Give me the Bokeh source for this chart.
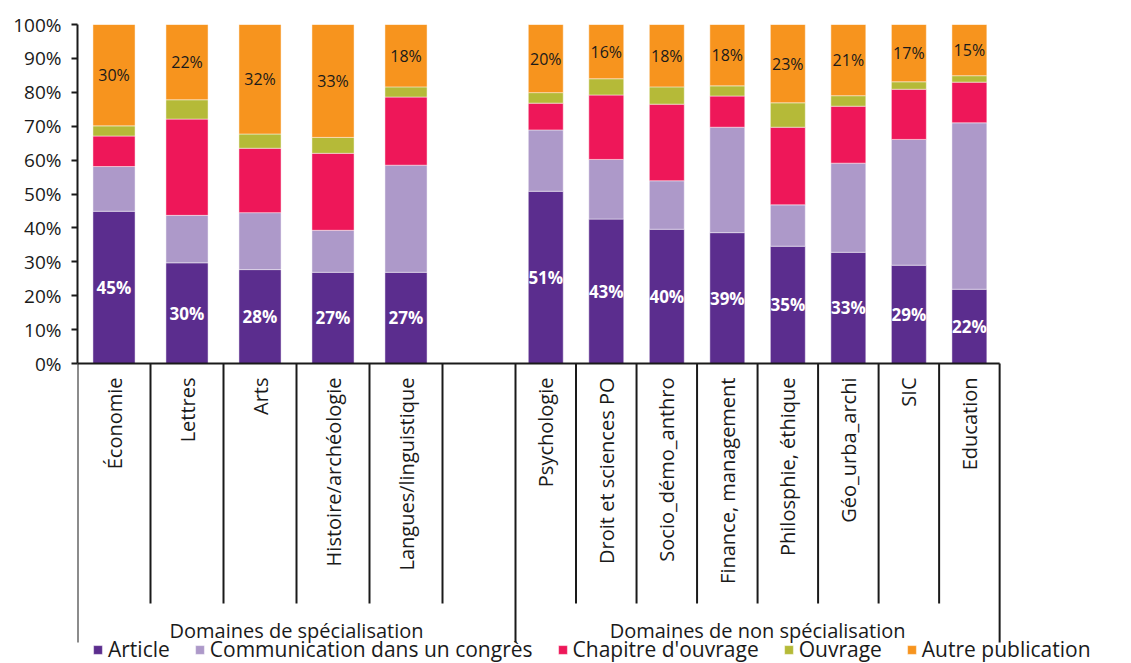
import math
from bokeh.plotting import figure
from bokeh.models import (ColumnDataSource, Range1d, FixedTicker, PrintfTickFormatter,
                          Legend, LegendItem)
from bokeh.core.properties import value
from bokeh.embed import file_html
from bokeh.resources import INLINE

# ---------------- data ----------------
group_names = ["Domaines de spécialisation", "Domaines de non spécialisation"]
categories = ["Économie", "Lettres", "Arts", "Histoire/archéologie", "Langues/linguistique",
              "Psychologie", "Droit et sciences PO", "Socio_démo_anthro", "Finance, management",
              "Philosphie, éthique", "Géo_urba_archi", "SIC", "Education"]
category_group = [0, 0, 0, 0, 0, 1, 1, 1, 1, 1, 1, 1, 1]

series = ["Article", "Communication dans un congrès", "Chapitre d'ouvrage", "Ouvrage", "Autre publication"]
article       = [44.9, 29.7, 27.7, 26.9, 26.9, 50.8, 42.6, 39.6, 38.6, 34.6, 32.8, 29.0, 21.9]
communication = [13.2, 14.0, 16.8, 12.4, 31.6, 18.1, 17.6, 14.3, 31.1, 12.2, 26.3, 37.1, 49.1]
chapitre      = [9.0, 28.4, 19.0, 22.7, 20.1, 7.9, 19.0, 22.6, 9.2, 22.9, 16.8, 14.8, 12.0]
ouvrage       = [3.0, 5.7, 4.2, 4.7, 3.0, 3.1, 4.8, 5.1, 3.0, 7.2, 3.1, 2.2, 1.9]
autre         = [29.9, 22.2, 32.3, 33.3, 18.4, 20.1, 16.0, 18.4, 18.1, 23.1, 21.0, 16.9, 15.1]
y_ticks = [0, 10, 20, 30, 40, 50, 60, 70, 80, 90, 100]

colors = ["#5B2D8E", "#AD99C9", "#EE1759", "#B5BA38", "#F7941E"]

# ---------------- layout constants ----------------
FONT = "Open Sans"
group_slot_width = [1.0, 0.829]      # width of one category slot in each group
group_extra_slots = [1, 0]           # empty slots at the end of a group
bar_frac = 0.577
PX_X = 73.0                           # pixels per x unit
PX_Y = 3.39                           # pixels per percent
W, H = 1131, 663
left_border, top_border = 77, 24
frame_w = W - left_border
frame_h = H - top_border
y_bottom = 100 - frame_h / PX_Y

# positions computed from groups
xs, ws = [], []
group_spans = []
start = 0.0
for g in range(len(group_names)):
    members = [i for i, cg in enumerate(category_group) if cg == g]
    sw = group_slot_width[g]
    for k, i in enumerate(members):
        xs.append(start + (k + 0.5) * sw)
        ws.append(sw * bar_frac)
    n_slots = len(members) + group_extra_slots[g]
    group_spans.append((start, start + n_slots * sw, sw, n_slots))
    start += n_slots * sw

src = ColumnDataSource(dict(
    x=xs, w=ws, cat=categories,
    s0=article, s1=communication, s2=chapitre, s3=ouvrage, s4=autre,
    ya=[a / 2 for a in article],
    la=[f"{round(a)}%" for a in article],
    yo=[100 - o / 2 for o in autre],
    lo=[f"{round(o)}%" for o in autre],
))

p = figure(width=W, height=H, output_backend="svg", toolbar_location=None,
           x_range=Range1d(0, frame_w / PX_X), y_range=Range1d(y_bottom, 100),
           x_axis_location=None,
           min_border_left=left_border, min_border_right=0,
           min_border_top=top_border, min_border_bottom=0)
p.outline_line_color = None
p.grid.visible = False
p.background_fill_color = "white"

# y axis
ya = p.yaxis[0]
ya.ticker = FixedTicker(ticks=y_ticks)
ya.formatter = PrintfTickFormatter(format="%d%%")
ya.bounds = (0, 100)
ya.axis_line_width = 2
ya.axis_line_color = "#1a1a1a"
ya.major_tick_line_width = 2
ya.major_tick_line_color = "#1a1a1a"
ya.major_tick_out = 6
ya.major_tick_in = 0
ya.minor_tick_out = 0
ya.minor_tick_in = 0
ya.major_label_text_font = FONT
ya.major_label_text_font_size = "19px"
ya.major_label_text_color = "#1a1a1a"
ya.major_label_standoff = 10

# bars
rs = p.vbar_stack(["s0", "s1", "s2", "s3", "s4"], x="x", width="w", source=src,
                  fill_color=colors, line_color="white", line_width=1, line_alpha=0.45)

# value labels
p.text(x="x", y="ya", text="la", source=src, text_color="white",
       text_font=value(FONT), text_font_style="bold", text_font_size="17px",
       text_align="center", text_baseline="middle")
p.text(x="x", y="yo", text="lo", source=src, text_color="#1a1a1a",
       text_font=value(FONT), text_font_size="16px",
       text_align="center", text_baseline="middle")

# category axis drawn in the frame
cat_anchor = -14 / PX_Y
inner_depth = -240 / PX_Y
outer_depth = -279 / PX_Y
group_label_y = -267 / PX_Y

p.text(x="x", y=cat_anchor, text="cat", source=src, angle=math.pi / 2,
       text_align="right", text_baseline="middle", text_color="#1a1a1a",
       text_font=value(FONT), text_font_size="20px")

sx0, sx1, sy0, sy1 = [], [], [], []
for (g0, g1, sw, n) in group_spans:
    for k in range(1, n):
        bx = g0 + k * sw
        sx0.append(bx); sx1.append(bx); sy0.append(0); sy1.append(inner_depth)
outer = sorted(set([s[0] for s in group_spans] + [s[1] for s in group_spans]))
for bx in outer:
    sx0.append(bx); sx1.append(bx); sy0.append(0); sy1.append(outer_depth)
p.segment(x0=sx0, y0=sy0, x1=sx1, y1=sy1, line_color="#1a1a1a", line_width=2)
p.segment(x0=[group_spans[0][0]], y0=[0], x1=[group_spans[-1][1]], y1=[0],
          line_color="#1a1a1a", line_width=2)

p.text(x=[(s[0] + s[1]) / 2 for s in group_spans], y=[group_label_y] * len(group_spans),
       text=group_names, text_align="center", text_baseline="middle", text_color="#1a1a1a",
       text_font=value(FONT), text_font_size="20px")

legend = Legend(items=[LegendItem(label=s, renderers=[r]) for s, r in zip(series, rs)],
                orientation="horizontal", location=(15, 0),
                glyph_width=11, glyph_height=11, label_standoff=5, spacing=24,
                padding=0, margin=0, border_line_color=None, background_fill_alpha=0,
                label_text_font=FONT, label_text_font_size="21px", label_text_color="#1a1a1a")
p.add_layout(legend)

open("out.html", "w").write(file_html(p, INLINE))
